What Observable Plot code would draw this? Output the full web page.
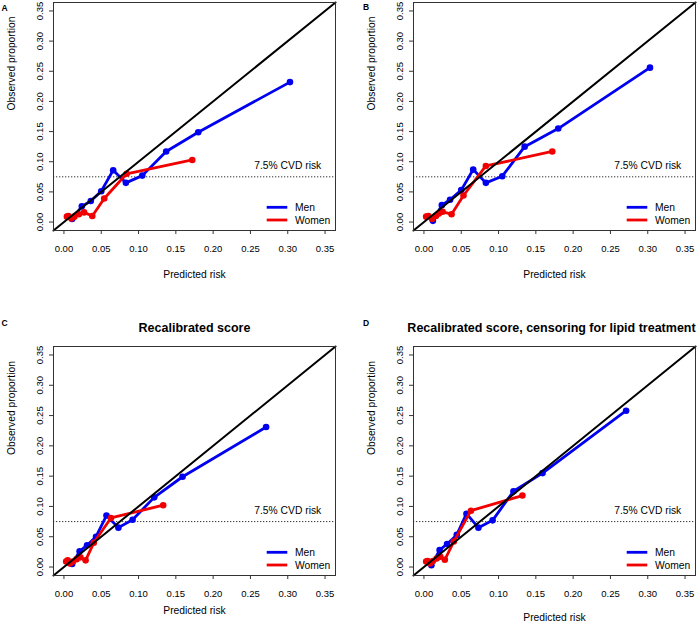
<!DOCTYPE html>
<html><head><meta charset="utf-8">
<script src="https://cdn.jsdelivr.net/npm/d3@7"></script>
<script src="https://cdn.jsdelivr.net/npm/@observablehq/plot@0.6"></script>
<style>
body{margin:0;background:#fff;font-family:"Liberation Sans",Arial,sans-serif;}
#wrap{position:relative;width:700px;height:627px;overflow:hidden;}
.panel{position:absolute;}
.letter{position:absolute;font-weight:bold;font-size:8.5px;line-height:1;font-family:"Liberation Sans",Arial,sans-serif;}
</style></head><body><div id="wrap"></div>
<script>
// ---- data ----
const tickValues = [0, 0.05, 0.10, 0.15, 0.20, 0.25, 0.30, 0.35];
const axisDomain = [-0.014, 0.364];
const cvdThreshold = 0.075;
const cvdLabel = "7.5% CVD risk";
const seriesNames = ["Men", "Women"];
const panelLetters = ["A", "B", "C", "D"];
const panelTitles = [null, null, "Recalibrated score", "Recalibrated score, censoring for lipid treatment"];

// Panel A
const menPredA = [0.011, 0.024, 0.036, 0.050, 0.066, 0.083, 0.105, 0.137, 0.180, 0.303];
const menObsA  = [0.005, 0.026, 0.035, 0.051, 0.086, 0.065, 0.077, 0.117, 0.149, 0.232];
const womenPredA = [0.004, 0.006, 0.010, 0.014, 0.020, 0.027, 0.038, 0.054, 0.084, 0.172];
const womenObsA  = [0.009, 0.010, 0.006, 0.009, 0.013, 0.016, 0.010, 0.039, 0.080, 0.103];
// Panel B
const menPredB = [0.012, 0.024, 0.035, 0.050, 0.066, 0.083, 0.105, 0.135, 0.180, 0.303];
const menObsB  = [0.002, 0.028, 0.037, 0.053, 0.087, 0.065, 0.076, 0.125, 0.155, 0.256];
const womenPredB = [0.003, 0.006, 0.011, 0.016, 0.020, 0.025, 0.037, 0.053, 0.083, 0.172];
const womenObsB  = [0.009, 0.010, 0.005, 0.010, 0.014, 0.017, 0.013, 0.044, 0.093, 0.117];
// Panel C
const menPredC = [0.011, 0.021, 0.031, 0.043, 0.057, 0.073, 0.092, 0.121, 0.159, 0.271];
const menObsC  = [0.005, 0.026, 0.036, 0.050, 0.085, 0.065, 0.078, 0.115, 0.149, 0.231];
const womenPredC = [0.003, 0.005, 0.008, 0.012, 0.017, 0.022, 0.029, 0.040, 0.063, 0.133];
const womenObsC  = [0.009, 0.011, 0.006, 0.009, 0.013, 0.016, 0.011, 0.040, 0.081, 0.102];
// Panel D
const menPredD = [0.010, 0.021, 0.031, 0.044, 0.057, 0.073, 0.092, 0.120, 0.159, 0.271];
const menObsD  = [0.003, 0.028, 0.038, 0.053, 0.088, 0.065, 0.077, 0.125, 0.155, 0.258];
const womenPredD = [0.003, 0.005, 0.008, 0.012, 0.017, 0.022, 0.028, 0.040, 0.063, 0.132];
const womenObsD  = [0.009, 0.010, 0.006, 0.010, 0.014, 0.017, 0.012, 0.042, 0.093, 0.118];

// ---- styling / layout ----
const COLORS = {Men: "#0000f0", Women: "#f00000"};
const FONT = '"Liberation Sans", Arial, sans-serif';

const panels = [
  {men: [menPredA, menObsA], women: [womenPredA, womenObsA], left: 0, top: 0, h: 313, mt: 2, mb: 83, ml: 53, mr: 15, xlabDy: 47, titleDx: 0, letter: [1.5, 3.5]},
  {men: [menPredB, menObsB], women: [womenPredB, womenObsB], left: 350, top: 0, h: 313, mt: 2, mb: 83, ml: 63, mr: 5, xlabDy: 47, titleDx: 0, letter: [363, 3]},
  {men: [menPredC, menObsC], women: [womenPredC, womenObsC], left: 0, top: 313, h: 314, mt: 33, mb: 52, ml: 53, mr: 15, xlabDy: 38, titleDx: 0, letter: [1.5, 319]},
  {men: [menPredD, menObsD], women: [womenPredD, womenObsD], left: 350, top: 313, h: 314, mt: 33, mb: 52, ml: 63, mr: 5, xlabDy: 45, titleDx: -3, letter: [363, 319]}
];

const wrap = document.getElementById("wrap");
const fmt = d3.format(".2f");

panels.forEach((p, i) => {
  const men = p.men[0].map((x, j) => ({x, y: p.men[1][j]}));
  const women = p.women[0].map((x, j) => ({x, y: p.women[1][j]}));
  const title = panelTitles[i];
  const svg = Plot.plot({
    width: 350, height: p.h,
    marginLeft: p.ml, marginRight: p.mr, marginTop: p.mt, marginBottom: p.mb,
    style: {fontFamily: FONT, fontSize: "9.5px", color: "#000", background: "transparent", overflow: "visible"},
    x: {domain: axisDomain},
    y: {domain: axisDomain},
    marks: [
      Plot.ruleY([cvdThreshold], {stroke: "#333", strokeWidth: 1, strokeDasharray: "1.3,1.7"}),
      Plot.line(men, {x: "x", y: "y", stroke: COLORS.Men, strokeWidth: 2.8}),
      Plot.dot(men, {x: "x", y: "y", fill: COLORS.Men, r: 3.3}),
      Plot.line(women, {x: "x", y: "y", stroke: COLORS.Women, strokeWidth: 2.8}),
      Plot.dot(women, {x: "x", y: "y", fill: COLORS.Women, r: 3.3}),
      Plot.line(axisDomain, {x: d => d, y: d => d, stroke: "#000", strokeWidth: 2}),
      Plot.frame({stroke: "#333", strokeWidth: 1}),
      Plot.axisX({ticks: tickValues, tickFormat: fmt, tickSize: 4, tickPadding: 11, label: null, stroke: "#333"}),
      Plot.axisY({ticks: tickValues, tickFormat: fmt, tickSize: 4, tickPadding: 7, tickRotate: -90, label: null, stroke: "#333"}),
      Plot.text([{x: 0.30, y: cvdThreshold, t: cvdLabel}], {x: "x", y: "y", text: "t", dy: -11, fontSize: 10.3}),
      Plot.text(["Predicted risk"], {frameAnchor: "bottom", dy: p.xlabDy, fontSize: 10.3}),
      Plot.text(["Observed proportion"], {frameAnchor: "left", dx: -41.6, dy: -6, rotate: -90, fontSize: 10.3}),
      title ? Plot.text([title], {frameAnchor: "top", dy: -23, dx: p.titleDx, fontWeight: "bold", fontSize: 12.5}) : null
    ]
  });
  // legend
  const right = 350 - p.mr, bottom = p.h - p.mb;
  const g = d3.select(svg).append("g").attr("font-family", FONT).attr("font-size", 10.3).attr("text-anchor", "start");
  seriesNames.forEach((name, k) => {
    const yy = bottom + (k === 0 ? -22.7 : -10);
    g.append("line").attr("x1", right - 68.3).attr("x2", right - 47.7).attr("y1", yy).attr("y2", yy)
      .attr("stroke", COLORS[name]).attr("stroke-width", 2.8);
    g.append("text").attr("x", right - 40).attr("y", yy).attr("dy", "0.35em")
      .attr("text-anchor", "start").attr("fill", "#000").text(name);
  });
  const div = document.createElement("div");
  div.className = "panel";
  div.style.left = p.left + "px";
  div.style.top = p.top + "px";
  div.appendChild(svg);
  wrap.appendChild(div);
  const lt = document.createElement("div");
  lt.className = "letter";
  lt.style.left = p.letter[0] + "px";
  lt.style.top = p.letter[1] + "px";
  lt.textContent = panelLetters[i];
  wrap.appendChild(lt);
});
</script></body></html>
